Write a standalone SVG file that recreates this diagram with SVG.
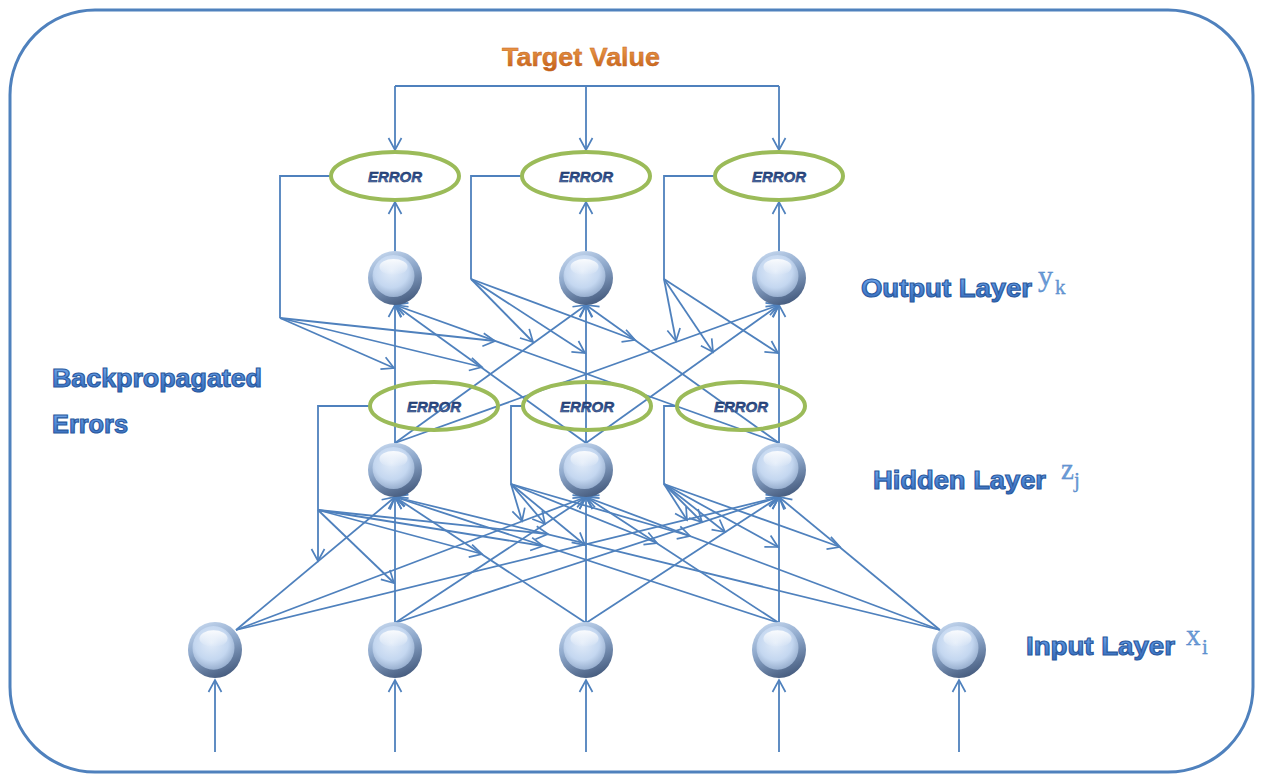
<svg xmlns="http://www.w3.org/2000/svg" xmlns:xlink="http://www.w3.org/1999/xlink" width="1261" height="780" viewBox="0 0 1261 780">
  <style>
    .wire { fill: none; stroke: #4f81bd; stroke-width: 1.8; }
    .arr { marker-end: url(#ah); }
    .err-ring { fill: none; stroke: #9bbb59; stroke-width: 4; }
    .err-txt { font-family: "Liberation Sans", Arial, sans-serif; font-size: 15px; font-weight: bold; font-style: italic; fill: url(#errFill); stroke: #1b3263; stroke-width: 0.5; text-anchor: middle; }
    .lbl { font-family: "Liberation Sans", Arial, sans-serif; font-size: 25px; font-weight: bold; fill: url(#lblFill); stroke: #2a5aa0; stroke-width: 1.1; }
    .var { font-family: "Liberation Serif", "Times New Roman", serif; fill: #6b9bd7; stroke: #4a7fc4; stroke-width: 0.3; }
    .title { font-family: "Liberation Sans", Arial, sans-serif; font-size: 25px; font-weight: bold; fill: url(#orgFill); stroke: #c0601a; stroke-width: 0.4; text-anchor: middle; }
  </style>
  <defs>
    <marker id="ah" markerUnits="userSpaceOnUse" markerWidth="16" markerHeight="16" viewBox="0 0 16 16" refX="14" refY="8" orient="auto">
      <path d="M2,1.5 L14,8 L2,14.5" fill="none" stroke="#4f81bd" stroke-width="1.7"/>
    </marker>
    <linearGradient id="lblFill" x1="0" y1="0" x2="0" y2="1">
      <stop offset="0" stop-color="#7fb0ee"/>
      <stop offset="0.5" stop-color="#4f88d6"/>
      <stop offset="1" stop-color="#3569b8"/>
    </linearGradient>
    <linearGradient id="orgFill" x1="0" y1="0" x2="0" y2="1">
      <stop offset="0" stop-color="#f0a050"/>
      <stop offset="1" stop-color="#c45f16"/>
    </linearGradient>
    <linearGradient id="errFill" x1="0" y1="0" x2="0" y2="1">
      <stop offset="0" stop-color="#1f3a6e"/>
      <stop offset="0.55" stop-color="#2f5193"/>
      <stop offset="1" stop-color="#6f90c8"/>
    </linearGradient>
    <linearGradient id="rim" x1="0.2" y1="0" x2="0.6" y2="1">
      <stop offset="0" stop-color="#c6d8ef"/>
      <stop offset="0.45" stop-color="#8ea8cb"/>
      <stop offset="1" stop-color="#475d80"/>
    </linearGradient>
    <radialGradient id="core" cx="0.45" cy="0.38" r="0.62">
      <stop offset="0" stop-color="#e2ecf9"/>
      <stop offset="0.65" stop-color="#c4d7f0"/>
      <stop offset="1" stop-color="#98afcf"/>
    </radialGradient>
    <linearGradient id="gloss" x1="0" y1="0" x2="0" y2="1">
      <stop offset="0" stop-color="#ffffff" stop-opacity="0.9"/>
      <stop offset="1" stop-color="#ffffff" stop-opacity="0"/>
    </linearGradient>
    <g id="ball">
      <ellipse rx="27" ry="27" fill="url(#rim)"/>
      <ellipse cx="-1.5" cy="-2" rx="21" ry="21" fill="url(#core)"/>
      <ellipse cx="-1.5" cy="-11" rx="14" ry="8" fill="url(#gloss)"/>
    </g>
  </defs>

  <!-- outer frame -->
  <rect x="10" y="10" width="1243" height="762" rx="85" ry="85" fill="#ffffff" stroke="#4f81bd" stroke-width="3"/>

  <!-- connectors -->
  <g id="connectors">
    <!-- target value bus -->
    <path class="wire" d="M395,86 H779"/>
    <path class="wire arr" d="M395,86 V150"/>
    <path class="wire arr" d="M586,86 V150"/>
    <path class="wire arr" d="M779,86 V150"/>

    <!-- output nodes into output errors -->
    <path class="wire arr" d="M395,252 V202"/>
    <path class="wire arr" d="M586,252 V202"/>
    <path class="wire arr" d="M779,252 V202"/>

    <!-- output error feedback brackets -->
    <path class="wire" d="M331,176 H280 V318"/>
    <path class="wire" d="M522,176 H471 V279"/>
    <path class="wire" d="M715,176 H664 V279"/>

    <!-- output error fans onto hidden-to-output weights -->
    <path class="wire arr" d="M280,318 L394,368"/>
    <path class="wire arr" d="M280,318 L482,367"/>
    <path class="wire arr" d="M280,318 L495,341"/>
    <path class="wire arr" d="M471,279 L533,342"/>
    <path class="wire arr" d="M471,279 L585,353"/>
    <path class="wire arr" d="M471,279 L635,340"/>
    <path class="wire arr" d="M664,279 L676,341"/>
    <path class="wire arr" d="M664,279 L713,352"/>
    <path class="wire arr" d="M664,279 L778,353"/>

    <!-- hidden to output -->
    <path class="wire arr" d="M395,443 L395,305"/>
    <path class="wire arr" d="M395,443 L586,305"/>
    <path class="wire arr" d="M395,443 L779,305"/>
    <path class="wire arr" d="M586,443 L395,305"/>
    <path class="wire arr" d="M586,443 L586,305"/>
    <path class="wire arr" d="M586,443 L779,305"/>
    <path class="wire arr" d="M779,443 L395,305"/>
    <path class="wire arr" d="M779,443 L586,305"/>
    <path class="wire arr" d="M779,443 L779,305"/>

    <!-- hidden error feedback brackets -->
    <path class="wire" d="M370,406 H318 V510"/>
    <path class="wire" d="M523,406 H511 V484"/>
    <path class="wire" d="M677,406 H664 V484"/>

    <!-- hidden error fans onto input-to-hidden weights -->
    <path class="wire arr" d="M318,510 L318,561"/>
    <path class="wire arr" d="M318,510 L394,583"/>
    <path class="wire arr" d="M318,510 L482,554"/>
    <path class="wire arr" d="M318,510 L543,546"/>
    <path class="wire arr" d="M318,510 L548,534"/>

    <path class="wire arr" d="M511,484 L522,521"/>
    <path class="wire arr" d="M511,484 L545,524"/>
    <path class="wire arr" d="M511,484 L585,545"/>
    <path class="wire arr" d="M511,484 L657,543"/>
    <path class="wire arr" d="M511,484 L690,536"/>

    <path class="wire arr" d="M664,484 L687,520"/>
    <path class="wire arr" d="M664,484 L702,522"/>
    <path class="wire arr" d="M664,484 L725,532"/>
    <path class="wire arr" d="M664,484 L778,547"/>
    <path class="wire arr" d="M664,484 L840,547"/>

    <!-- input to hidden -->
    <path class="wire arr" d="M236,630 L395,497"/>
    <path class="wire arr" d="M236,630 L586,497"/>
    <path class="wire arr" d="M236,630 L779,497"/>
    <path class="wire arr" d="M395,623 L395,497"/>
    <path class="wire arr" d="M395,623 L586,497"/>
    <path class="wire arr" d="M395,623 L779,497"/>
    <path class="wire arr" d="M586,623 L395,497"/>
    <path class="wire arr" d="M586,623 L586,497"/>
    <path class="wire arr" d="M586,623 L779,497"/>
    <path class="wire arr" d="M779,623 L395,497"/>
    <path class="wire arr" d="M779,623 L586,497"/>
    <path class="wire arr" d="M779,623 L779,497"/>
    <path class="wire arr" d="M940,630 L395,497"/>
    <path class="wire arr" d="M940,630 L586,497"/>
    <path class="wire arr" d="M940,630 L779,497"/>

    <!-- external inputs -->
    <path class="wire arr" d="M215,752 V680"/>
    <path class="wire arr" d="M395,752 V680"/>
    <path class="wire arr" d="M586,752 V680"/>
    <path class="wire arr" d="M779,752 V680"/>
    <path class="wire arr" d="M959,752 V680"/>
  </g>

  <!-- output error nodes -->
  <g id="out-err-1"><ellipse class="err-ring" cx="395" cy="176" rx="64" ry="24"/><text class="err-txt" x="395" y="182">ERROR</text></g>
  <g id="out-err-2"><ellipse class="err-ring" cx="586" cy="176" rx="64" ry="24"/><text class="err-txt" x="586" y="182">ERROR</text></g>
  <g id="out-err-3"><ellipse class="err-ring" cx="779" cy="176" rx="64" ry="24"/><text class="err-txt" x="779" y="182">ERROR</text></g>

  <!-- output nodes -->
  <g id="out-1"><use href="#ball" transform="translate(395,278)"/></g>
  <g id="out-2"><use href="#ball" transform="translate(586,278)"/></g>
  <g id="out-3"><use href="#ball" transform="translate(779,278)"/></g>

  <!-- hidden error nodes -->
  <g id="hid-err-1"><ellipse class="err-ring" cx="434" cy="406" rx="64" ry="24"/><text class="err-txt" x="434" y="412">ERROR</text></g>
  <g id="hid-err-2"><ellipse class="err-ring" cx="587" cy="406" rx="64" ry="24"/><text class="err-txt" x="587" y="412">ERROR</text></g>
  <g id="hid-err-3"><ellipse class="err-ring" cx="741" cy="406" rx="64" ry="24"/><text class="err-txt" x="741" y="412">ERROR</text></g>

  <!-- hidden nodes -->
  <g id="hid-1"><use href="#ball" transform="translate(395,470)"/></g>
  <g id="hid-2"><use href="#ball" transform="translate(586,470)"/></g>
  <g id="hid-3"><use href="#ball" transform="translate(779,470)"/></g>

  <!-- input nodes -->
  <g id="in-1"><use href="#ball" transform="translate(215,650) scale(1,1.04)"/></g>
  <g id="in-2"><use href="#ball" transform="translate(395,650) scale(1,1.04)"/></g>
  <g id="in-3"><use href="#ball" transform="translate(586,650) scale(1,1.04)"/></g>
  <g id="in-4"><use href="#ball" transform="translate(779,650) scale(1,1.04)"/></g>
  <g id="in-5"><use href="#ball" transform="translate(959,650) scale(1,1.04)"/></g>

  <!-- labels -->
  <g id="target-label"><text class="title" x="581" y="66" textLength="158" lengthAdjust="spacingAndGlyphs">Target Value</text></g>
  <g id="backprop-label">
    <text class="lbl" x="52" y="387" textLength="210" lengthAdjust="spacingAndGlyphs">Backpropagated</text>
    <text class="lbl" x="52" y="433" textLength="76" lengthAdjust="spacingAndGlyphs">Errors</text>
  </g>
  <g id="output-label">
    <text class="lbl" x="861" y="297" textLength="171" lengthAdjust="spacingAndGlyphs">Output Layer</text>
    <text class="var" x="1038" y="286" font-size="30">y</text>
    <text class="var" x="1055" y="294" font-size="21">k</text>
  </g>
  <g id="hidden-label">
    <text class="lbl" x="873" y="489" textLength="173" lengthAdjust="spacingAndGlyphs">Hidden Layer</text>
    <text class="var" x="1061" y="479" font-size="29">z</text>
    <text class="var" x="1074" y="487" font-size="21">j</text>
  </g>
  <g id="input-label">
    <text class="lbl" x="1026" y="655" textLength="149" lengthAdjust="spacingAndGlyphs">Input Layer</text>
    <text class="var" x="1186" y="645" font-size="29">x</text>
    <text class="var" x="1202" y="654" font-size="21">i</text>
  </g>
</svg>
